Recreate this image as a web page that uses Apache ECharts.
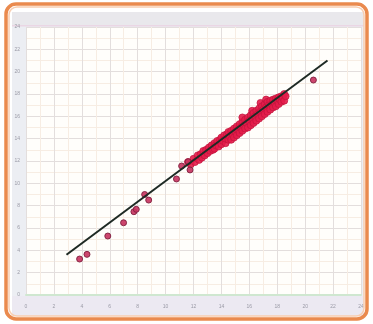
<!DOCTYPE html>
<html><head><meta charset="utf-8">
<script src="https://cdn.jsdelivr.net/npm/echarts@6/dist/echarts.min.js"></script>
<style>html,body{margin:0;padding:0;background:#fff}#c{width:373px;height:324px}</style>
</head><body><div id="c"></div>
<script>
var xTicks = [0,2,4,6,8,10,12,14,16,18,20,22,24];
var yTicks = [0,2,4,6,8,10,12,14,16,18,20,22,24];
var sparsePoints = [
  [3.84,3.22],[4.37,3.64],[5.86,5.28],[6.99,6.47],[7.73,7.46],[7.9,7.67],
  [8.5,9.0],[8.79,8.5],[10.78,10.39],[11.15,11.55],[11.75,11.2],[11.62,11.94],
  [20.59,19.25]
];
var clusterPoints = [
  [11.6,11.9],[11.8,11.7],[12.0,12.2],[12.1,11.9],[12.3,12.5],[12.4,12.1],[12.5,12.6],[12.6,12.3],
  [12.7,12.9],[12.8,12.5],[12.9,13.0],[13.0,12.7],[13.1,13.2],[13.2,12.9],[13.3,13.4],[13.4,13.0],
  [13.5,13.6],[13.5,13.1],[13.6,13.4],[13.7,13.8],[13.8,13.3],[13.9,13.9],[14.0,13.5],[14.0,14.1],
  [14.1,13.8],[14.2,14.3],[14.3,13.6],[14.3,14.0],[14.4,14.4],[14.5,13.9],[14.5,14.6],[14.6,14.2],
  [14.7,14.7],[14.7,13.9],[14.8,14.4],[14.9,14.9],[14.9,14.1],[15.0,14.6],[15.1,15.1],[15.1,14.3],
  [15.2,14.8],[15.3,15.3],[15.3,14.5],[15.4,15.0],[15.5,15.5],[15.5,14.7],[15.5,15.9],[15.6,15.2],
  [15.7,15.7],[15.7,14.9],[15.8,15.4],[15.9,15.9],[15.9,15.0],[16.0,15.6],[16.1,16.1],[16.1,15.2],
  [16.2,15.8],[16.2,16.5],[16.3,16.3],[16.3,15.4],[16.4,16.0],[16.5,16.5],[16.5,15.6],[16.6,16.2],
  [16.7,16.7],[16.7,15.8],[16.8,16.4],[16.8,17.2],[16.9,16.9],[16.9,16.0],[17.0,16.6],[17.1,17.1],
  [17.1,16.2],[17.2,16.8],[17.2,17.5],[17.3,17.3],[17.3,16.4],[17.4,17.0],[17.5,17.4],[17.5,16.6],
  [17.6,17.1],[17.7,17.5],[17.7,16.8],[17.8,17.2],[17.9,17.6],[17.9,16.9],[18.0,17.4],[18.1,17.7],
  [18.1,17.1],[18.2,17.5],[18.3,17.8],[18.3,17.3],[18.4,17.7],[18.5,18.0],[18.5,17.4],[18.6,17.8]
];
var fitLine = [[2.9,3.6],[21.6,21.0]];

var chart = echarts.init(document.getElementById('c'), null, {renderer:'canvas'});
chart.setOption({
  backgroundColor:'#ffffff',
  animation:false,
  graphic:[
    {type:'rect', z:-10, shape:{x:12,y:12,width:352,height:304}, style:{fill:'#eceef3'}},
    {type:'rect', z:-9, shape:{x:12,y:12,width:352,height:14}, style:{fill:'#e9e8ec'}},
    {type:'rect', z:-9, shape:{x:12,y:25,width:352,height:1.5}, style:{fill:'#ead6e4'}},
    {type:'rect', z:-9, shape:{x:12,y:296,width:352,height:20}, style:{fill:'#ece9f2'}},
    {type:'rect', z:10, shape:{x:6,y:4,width:361,height:315,r:10}, style:{fill:null,stroke:'#ea8a4e',lineWidth:3.5}},
    {type:'rect', z:10, shape:{x:9,y:7,width:355,height:309,r:8}, style:{fill:null,stroke:'#f8cdb0',lineWidth:1.5}}
  ],
  grid:{left:26,right:12,top:27,bottom:29,show:true,backgroundColor:'#fffefb',borderWidth:0},
  xAxis:{
    type:'value',min:0,max:24,interval:2,
    axisLine:{show:true,lineStyle:{color:'#cfe7d0',width:2}},
    axisTick:{show:false},
    axisLabel:{fontSize:5,color:'#9a9aa6',margin:9,formatter:function(v){return xTicks.indexOf(v)>=0?String(v):'';}},
    splitLine:{show:true,lineStyle:{color:'#e3dedd',width:1}},
    minorTick:{show:false,splitNumber:2},
    minorSplitLine:{show:true,lineStyle:{color:'#f7ede3',width:1}}
  },
  yAxis:{
    type:'value',min:0,max:24,interval:2,
    axisLine:{show:false},
    axisTick:{show:false},
    axisLabel:{fontSize:5,color:'#9a9aa6',margin:6,formatter:function(v){return yTicks.indexOf(v)>=0?String(v):'';}},
    splitLine:{show:true,lineStyle:{color:'#e3dedd',width:1}},
    minorTick:{show:false,splitNumber:2},
    minorSplitLine:{show:true,lineStyle:{color:'#f7ede3',width:1}}
  },
  series:[
    {type:'scatter',data:clusterPoints,symbolSize:7,
     itemStyle:{color:'#e41c4a',borderColor:'#c0143c',borderWidth:0.8,opacity:0.9}},
    {type:'scatter',data:sparsePoints,symbolSize:6,
     itemStyle:{color:'#c8325e',borderColor:'#7e1f3e',borderWidth:1,opacity:0.9}},
    {type:'line',data:fitLine,symbol:'none',z:5,
     lineStyle:{color:'#1e2a24',width:2}}
  ]
});
</script></body></html>
